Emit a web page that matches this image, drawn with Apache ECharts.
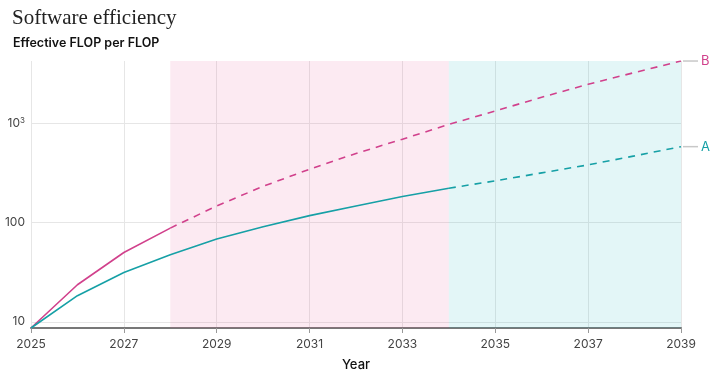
<!DOCTYPE html>
<html>
<head>
<meta charset="utf-8">
<script src="https://cdn.jsdelivr.net/npm/echarts@6/dist/echarts.min.js"></script>
<style>html,body{margin:0;padding:0;background:#fff}#c{width:723px;height:378px}</style>
</head>
<body>
<div id="c"></div>
<script>
const years = [2025,2026,2027,2028,2029,2030,2031,2032,2033,2034,2035,2036,2037,2038,2039];
const seriesA = [8.65,18.3,31.3,47.3,68.1,90.6,117.5,147,183,222,263,317,381,470,582];
const seriesB = [8.65,23.6,49.9,87.9,147,232,345,497,692,975,1333,1832,2477,3252,4247];
const yTickLabels = {10:'10', 100:'100', 1000:'10{sup|3}'};
const solidEndA = 2034, solidEndB = 2028;
const phase1 = [2028, 2034], phase2 = [2034, 2039];

const PINK = '#d1418c', TEAL = '#16a0a6';
function seg(vals, from, to){ return years.map((y,i)=> (y>=from && y<=to) ? [y, vals[i]] : [y, null]); }
const SANS = 'Inter, "Noto Sans", sans-serif';

function endLab(name, color){
  return {show:true, distance:2, formatter:'{g|}{n|'+name+'}',
    rich:{g:{width:15,height:1.5,backgroundColor:'#c8c8c8'}, n:{color:color,fontSize:13,fontFamily:SANS,padding:[0,0,0,3]}}};
}

const chart = echarts.init(document.getElementById('c'));
chart.setOption({
  animation:false,
  title:[
    {text:'Software efficiency', left:7, top:3, textStyle:{fontFamily:'"Liberation Serif", serif', fontSize:21, fontWeight:'normal', color:'#222'}},
    {text:'Effective FLOP per FLOP', left:8, top:32, textStyle:{fontFamily:SANS, fontSize:12.5, fontWeight:600, color:'#111'}}
  ],
  grid:{left:31, right:42, top:61, bottom:50},
  xAxis:{type:'value', min:2025, max:2039, interval:2, name:'Year', nameLocation:'middle', nameGap:31,
    nameTextStyle:{fontFamily:SANS, fontSize:13, fontWeight:500, color:'#111'},
    axisLine:{lineStyle:{color:'#777', width:2}}, axisTick:{show:true, length:5, lineStyle:{color:'#999'}},
    axisLabel:{formatter:v=>String(v), color:'#444', fontFamily:SANS, fontSize:12, margin:10},
    splitLine:{show:true, lineStyle:{color:'#e6e6e6'}}},
  yAxis:{type:'log', logBase:10, min:8.65, max:4250,
    axisLine:{show:false}, axisTick:{show:false},
    axisLabel:{showMinLabel:false, showMaxLabel:false, color:'#444', fontFamily:SANS, fontSize:12, margin:6,
      formatter:v=>{const p=Math.round(Math.log10(v)); const k=Math.pow(10,p); return Math.abs(v-k)/k<1e-3 ? (yTickLabels[k]||'') : '';},
      rich:{sup:{fontSize:8, verticalAlign:'top', padding:[0,0,6,0], color:'#444', fontFamily:SANS}}},
    splitLine:{show:true, showMinLine:false, showMaxLine:false, lineStyle:{color:'#e6e6e6'}}},
  series:[
    {type:'line', data:seg(seriesB, 2025, solidEndB), showSymbol:false, lineStyle:{color:PINK, width:1.6}, z:3,
     markArea:{silent:true, data:[[{xAxis:phase1[0], itemStyle:{color:'rgba(230,80,150,0.12)'}},{xAxis:phase1[1]}],
                                  [{xAxis:phase2[0], itemStyle:{color:'rgba(40,185,195,0.13)'}},{xAxis:phase2[1]}]]}},
    {type:'line', data:seg(seriesB, solidEndB, 2039), showSymbol:false, lineStyle:{color:PINK, width:1.6, type:[7,6]}, z:3, endLabel:endLab('B', PINK)},
    {type:'line', data:seg(seriesA, 2025, solidEndA), showSymbol:false, lineStyle:{color:TEAL, width:1.6}, z:3},
    {type:'line', data:seg(seriesA, solidEndA, 2039), showSymbol:false, lineStyle:{color:TEAL, width:1.6, type:[7,6]}, z:3, endLabel:endLab('A', TEAL)}
  ]
});
</script>
</body>
</html>
